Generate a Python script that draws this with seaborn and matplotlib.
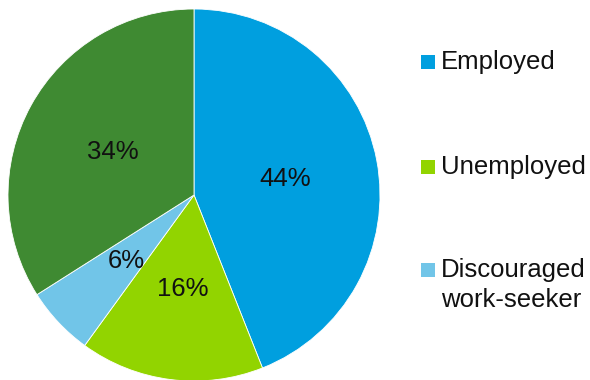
import matplotlib
matplotlib.use("Agg")
import matplotlib.pyplot as plt
from matplotlib.patches import Rectangle
import numpy as np
import seaborn as sns

# Labour-market status shares (per cent)
categories = ["Employed", "Unemployed", "Discouraged\nwork-seeker", "Other"]
shares = [44, 16, 6, 34]
colors = ["#009FDF", "#92D400", "#71C5E8", "#3F8A32"]
legend_items = [0, 1, 2]  # categories shown in the key

sns.set_theme(style="white")
plt.rcParams["font.family"] = ["Liberation Sans", "DejaVu Sans"]

fig = plt.figure(figsize=(5.9, 3.8), dpi=100)
W, H = 590, 380
cx, cy, r = 194, 195, 186
ax = fig.add_axes([(cx - r) / W, (H - cy - r) / H, 2 * r / W, 2 * r / H])

wedges, _ = ax.pie(
    shares,
    colors=colors,
    startangle=90,
    counterclock=False,
    radius=1,
    wedgeprops=dict(edgecolor="white", linewidth=0.6),
)
# percentage labels at mid-radius of each wedge
for val, w in zip(shares, wedges):
    mid = np.deg2rad((w.theta1 + w.theta2) / 2)
    ax.text(0.5 * np.cos(mid), 0.5 * np.sin(mid) - 0.01, f"{val}%",
            ha="center", va="center", fontsize=18.5, color="#111111")
ax.set_xlim(-1, 1)
ax.set_ylim(-1, 1)
ax.set_aspect("equal")
ax.axis("off")

# key on the right
key_y = [62, 167, 270]
for idx, y in zip(legend_items, key_y):
    fig.patches.append(Rectangle((421 / W, (H - y - 7) / H), 14 / W, 14 / H,
                                 transform=fig.transFigure,
                                 facecolor=colors[idx], edgecolor="none"))
    lines = categories[idx].split("\n")
    for k, line in enumerate(lines):
        fig.text(441 / W, (H - y - 30 * k) / H, line, ha="left", va="center",
                 fontsize=18.5, color="#111111")

fig.savefig("out.png", dpi=100, facecolor="white")
